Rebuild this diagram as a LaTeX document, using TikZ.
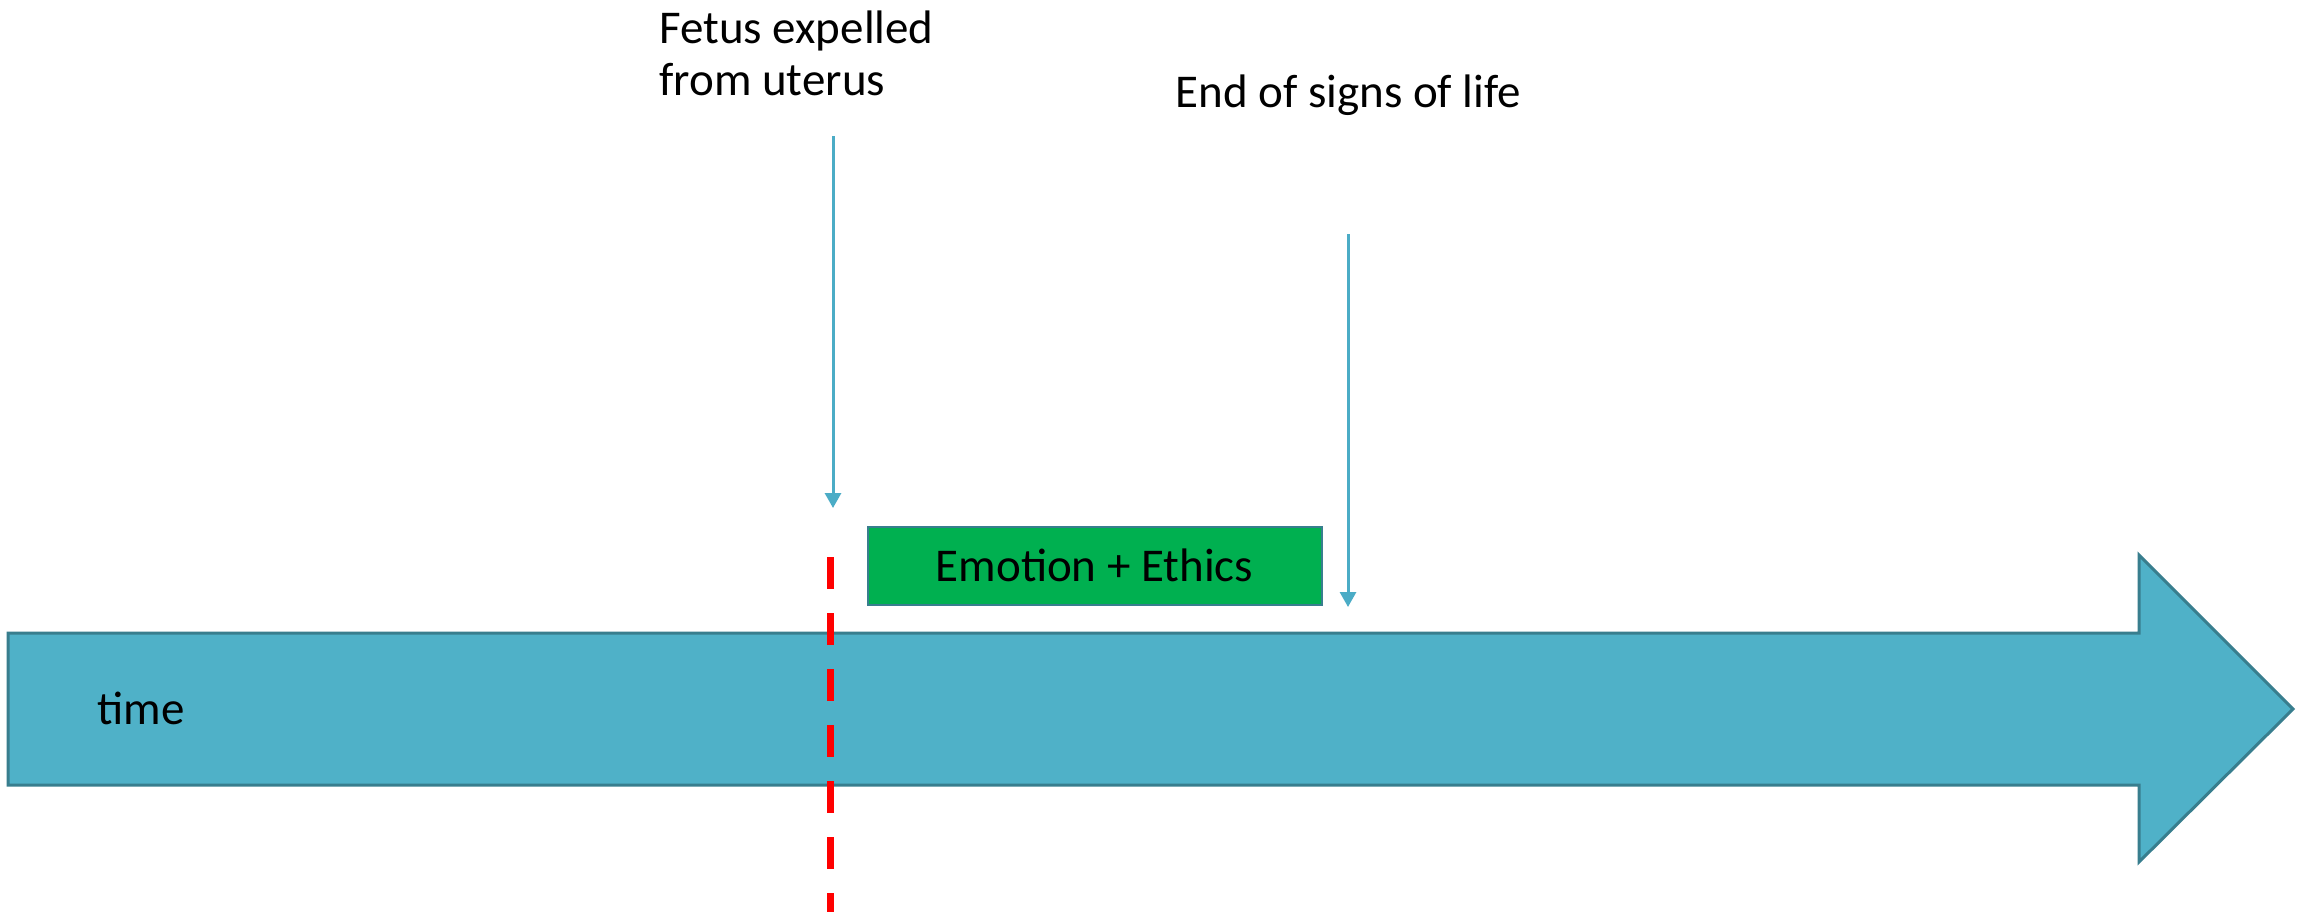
\documentclass[tikz,border=0pt]{standalone}
\usepackage{fontspec}
\setmainfont{Carlito}
\usetikzlibrary{arrows.meta}
\definecolor{tlfill}{RGB}{79,177,200}
\definecolor{tledge}{RGB}{56,126,142}
\definecolor{arr}{RGB}{75,172,198}
\definecolor{emgreen}{RGB}{0,176,80}
\begin{document}
\begin{tikzpicture}[x=0.5pt,y=-0.5pt,
  lbl/.style={font=\fontsize{23.5}{26}\selectfont, inner sep=0pt, text=black, align=left},
  conn/.style={draw=arr, line width=1.5pt, -{Triangle[width=8pt,length=7.5pt]}},
  timeline/.style={fill=tlfill, draw=tledge, line width=1.5pt, line join=miter},
  stagebox/.style={draw=tledge, fill=emgreen, line width=1pt, minimum width=227pt, minimum height=39pt, inner sep=0pt, font=\fontsize{23.5}{26}\selectfont},
  cutline/.style={draw=red, line width=3.5pt, dash pattern=on 16pt off 12pt}]
\useasboundingbox (0,0) rectangle (2306,916);
\fill[white] (0,0) rectangle (2306,916);
% timeline arrow
\filldraw[timeline] (8,633) -- (2139,633) -- (2139,555) -- (2293,709) -- (2139,862) -- (2139,785) -- (8,785) -- cycle;
\node[lbl, anchor=base west] (time) at (97,724) {time};
% red dashed line
\coordinate (cutTop) at (830,557);
\coordinate (cutBot) at (830,912);
\path[cutline] (cutTop) -- (cutBot);
% green box
\node[stagebox] (emo) at (1094.5,565.5) {Emotion + Ethics};
% labels
\node[lbl, anchor=base west] (fetus) at (659,95) {Fetus expelled\\from uterus};
\node[lbl, anchor=base west] (end) at (1175,107) {End of signs of life};
% arrows
\coordinate (a1s) at (833,136);
\coordinate (a1e) at (833,508);
\coordinate (a2s) at (1348,234);
\coordinate (a2e) at (1348,607);
\draw[conn] (a1s) -- (a1e);
\draw[conn] (a2s) -- (a2e);
\end{tikzpicture}
\end{document}
